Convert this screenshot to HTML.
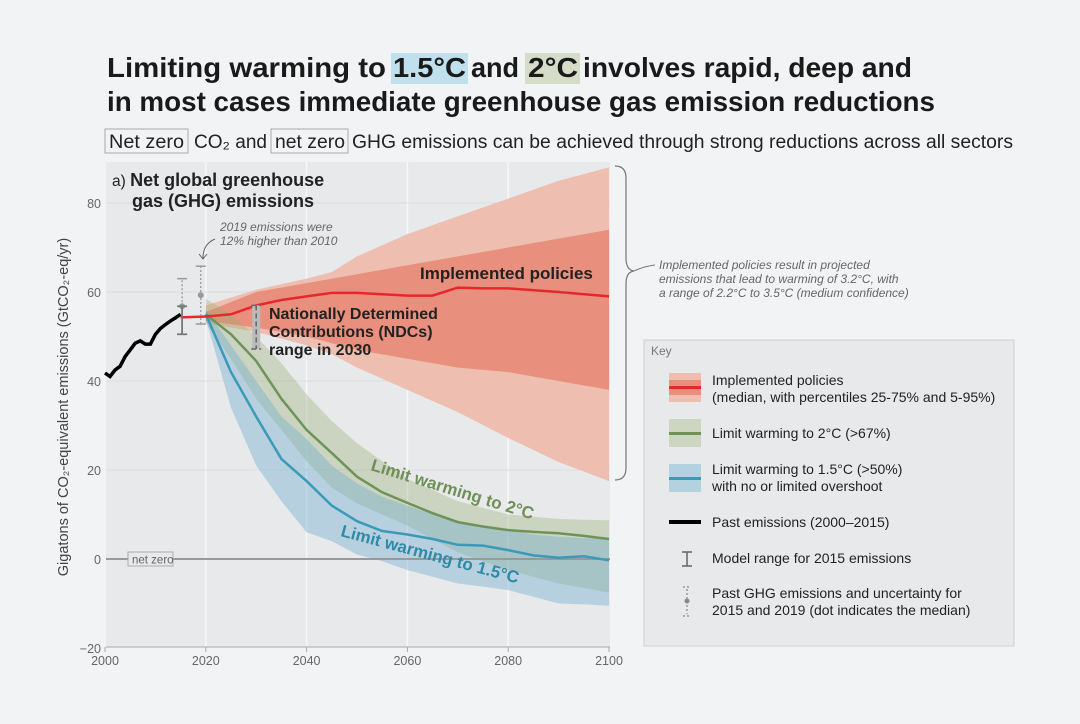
<!DOCTYPE html>
<html><head><meta charset="utf-8"><style>
body{margin:0;background:#f2f3f5;}
svg{display:block;font-family:"Liberation Sans",sans-serif;}
</style></head><body>
<svg id="c" width="1080" height="724" viewBox="0 0 1080 724">
<rect width="1080" height="724" fill="#f2f3f5"/>
<g font-size="28" font-weight="bold" fill="#1a1a1a">
<rect x="391" y="53" width="77" height="31" fill="#bfe0ec"/>
<rect x="525" y="53" width="55" height="31" fill="#d5dcc8"/>
<text x="107" y="77" textLength="279" lengthAdjust="spacingAndGlyphs">Limiting warming to</text>
<text x="393" y="77" textLength="73" lengthAdjust="spacingAndGlyphs">1.5°C</text>
<text x="471" y="77" textLength="48" lengthAdjust="spacingAndGlyphs">and</text>
<text x="528" y="77" textLength="50" lengthAdjust="spacingAndGlyphs">2°C</text>
<text x="583" y="77" textLength="329" lengthAdjust="spacingAndGlyphs">involves rapid, deep and</text>
<text x="107" y="111" textLength="828" lengthAdjust="spacingAndGlyphs">in most cases immediate greenhouse gas emission reductions</text>
</g>
<g font-size="19" fill="#222">
<rect x="105" y="129" width="83" height="24" fill="none" stroke="#aaa" stroke-width="1"/>
<rect x="271" y="129" width="77" height="24" fill="none" stroke="#aaa" stroke-width="1"/>
<text x="109" y="148" textLength="75" lengthAdjust="spacingAndGlyphs">Net zero</text>
<text x="194" y="148" textLength="73" lengthAdjust="spacingAndGlyphs">CO₂ and</text>
<text x="275" y="148" textLength="70" lengthAdjust="spacingAndGlyphs">net zero</text>
<text x="352" y="148" textLength="661" lengthAdjust="spacingAndGlyphs">GHG emissions can be achieved through strong reductions across all sectors</text>
</g>
<rect x="106" y="162" width="504" height="485" fill="#e8e9eb"/>
<g id="grid"></g>
<g id="bands"></g>
<g id="lines"></g>
<g id="axes"></g>
<text x="112" y="186" font-size="15.5" fill="#222">a) <tspan font-weight="bold" font-size="18">Net global greenhouse</tspan></text>
<text x="132" y="207" font-size="18" font-weight="bold" fill="#222">gas (GHG) emissions</text>
<text x="68" y="407" font-size="14.5" fill="#444" text-anchor="middle" transform="rotate(-90 68 407)">Gigatons of CO₂-equivalent emissions (GtCO₂-eq/yr)</text>
<g font-style="italic" fill="#666" font-size="12">
<text x="220" y="231">2019 emissions were</text>
<text x="220" y="245">12% higher than 2010</text>
<path d="M215 239 Q203 244 203 258 M199 254 L203 259 L207 254" fill="none" stroke="#666" stroke-width="1"/>
</g>
<text x="420" y="279" font-size="17" font-weight="bold" fill="#222">Implemented policies</text>
<g font-size="16" font-weight="bold" fill="#222">
<text x="269" y="319">Nationally Determined</text>
<text x="269" y="337">Contributions (NDCs)</text>
<text x="269" y="355">range in 2030</text>
</g>
<text x="370" y="470" font-size="17" font-weight="bold" fill="#6f8f56" transform="rotate(17 370 470)">Limit warming to 2°C</text>
<text x="340" y="536" font-size="17" font-weight="bold" fill="#2f8aa6" transform="rotate(15 340 536)">Limit warming to 1.5°C</text>
<g>
<path d="M615 166 Q626 166 626 178 L626 258 Q626 270 634 271 Q626 272 626 284 L626 468 Q626 480 615 480" fill="none" stroke="#777" stroke-width="1.2"/>
<path d="M634 271 Q645 266 655 265" fill="none" stroke="#777" stroke-width="1"/>
</g>
<g font-style="italic" fill="#666" font-size="12">
<text x="659" y="269">Implemented policies result in projected</text>
<text x="659" y="283">emissions that lead to warming of 3.2°C, with</text>
<text x="659" y="297">a range of 2.2°C to 3.5°C (medium confidence)</text>
</g>
<g>
<rect x="644" y="340" width="370" height="306" fill="#e8e9eb" stroke="#d0d0d0"/>
<text x="651" y="355" font-size="12" fill="#777">Key</text>
<rect x="669" y="373" width="32" height="29" fill="#eebfb0"/><rect x="669" y="380" width="32" height="15" fill="#e8907d"/><rect x="669" y="386" width="32" height="3" fill="#e8262d"/>
<text x="712" y="385" font-size="14" fill="#222">Implemented policies</text>
<text x="712" y="402" font-size="14" fill="#222">(median, with percentiles 25-75% and 5-95%)</text>
<rect x="669" y="419" width="32" height="28" fill="#ccd6c0"/><rect x="669" y="432" width="32" height="3" fill="#6f9357"/>
<text x="712" y="438" font-size="14" fill="#222">Limit warming to 2°C (&gt;67%)</text>
<rect x="669" y="464" width="32" height="28" fill="#b2d2df"/><rect x="669" y="477" width="32" height="3" fill="#3a9ab7"/>
<text x="712" y="474" font-size="14" fill="#222">Limit warming to 1.5°C (&gt;50%)</text>
<text x="712" y="491" font-size="14" fill="#222">with no or limited overshoot</text>
<rect x="669" y="520" width="32" height="4" fill="#000"/>
<text x="712" y="527" font-size="14" fill="#222">Past emissions (2000–2015)</text>
<path d="M682 552 h10 M687 552 v14 M682 566 h10" stroke="#666" stroke-width="1.5"/>
<text x="712" y="563" font-size="14" fill="#222">Model range for 2015 emissions</text>
<path d="M683 587 h8 M683 616 h8 M687 589 v25" stroke="#888" stroke-width="1.2" stroke-dasharray="2,2"/><circle cx="687" cy="601" r="2.5" fill="#888"/>
<text x="712" y="598" font-size="14" fill="#222">Past GHG emissions and uncertainty for</text>
<text x="712" y="615" font-size="14" fill="#222">2015 and 2019 (dot indicates the median)</text>
</g>
</svg>
<script>
const pastYears=[2000,2001,2002,2003,2004,2005,2006,2007,2008,2009,2010,2011,2012,2013,2014,2015];
const pastValues=[41.8,41,42.5,43.3,45.5,47,48.5,49,48.3,48.3,50.5,51.8,52.7,53.5,54.2,55];
const polYears=[2015,2020,2025,2030,2035,2040,2045,2050,2055,2060,2065,2070,2075,2080,2090,2100];
const polMedian=[54.3,54.5,55,57,58.2,59,59.8,59.8,59.5,59.2,59.2,61,60.8,60.8,60,59];
const bandYears=[2020,2030,2040,2045,2050,2060,2070,2080,2090,2100];
const pol95=[57,60.5,63,64.5,68,73,77,81,85,88];
const pol75=[55.5,60,62,63,64,66,68,70,72,74];
const pol25=[53.5,52,50,48.5,47,45,43,42,40,38];
const pol5=[53,51,48,46,43,38,33,27.2,21.8,17.5];
const pathYears=[2020,2025,2030,2035,2040,2045,2050,2055,2060,2065,2070,2075,2080,2085,2090,2095,2100];
const c2Median=[55,50.5,44.5,36,29,23.8,18.5,15,12.6,10.3,8.3,7.3,6.5,6.1,5.8,5.2,4.5];
const c2Upper=[58.5,55,50,44,37,31,26,22,18,15.5,13,11.5,10,9.5,9,8.8,8.7];
const c2Lower=[53,45,36,29,22,16,12.5,10,7.5,4.5,1.5,-0.5,-2.5,-4,-5.5,-6.5,-7.6];
const c15Median=[55,42,32,22.5,17.5,12,8.5,6.3,5.5,4.5,3.2,3,2,0.8,0.3,0.6,-0.3];
const c15Upper=[56,48,40,32,27,21,17,14,12,10,8.5,7.5,6.5,5.5,5,4.7,4.5];
const c15Lower=[54,34,21,13,6,4,1,-0.5,-2.5,-4,-5.5,-6.2,-7,-8.5,-10,-10.2,-10.5];
const yTicks=[80,60,40,20,0,-20];
const xTicks=[2000,2020,2040,2060,2080,2100];
const err2015=[50.5,56.8,63];
const err2019=[52.8,59.3,65.8];
const ndc2030=[47.2,57];
const X=y=>105+(y-2000)*5.04;
const Y=v=>559-v*4.45;
const NS='http://www.w3.org/2000/svg';
function mk(parent,tag,attrs){const e=document.createElementNS(NS,tag);for(const k in attrs)e.setAttribute(k,attrs[k]);document.getElementById(parent).appendChild(e);return e;}
function line(xs,vs){return xs.map((x,i)=>(i?'L':'M')+X(x).toFixed(1)+' '+Y(vs[i]).toFixed(1)).join(' ');}
function band(xs,up,lo){let d=xs.map((x,i)=>(i?'L':'M')+X(x).toFixed(1)+' '+Y(up[i]).toFixed(1)).join(' ');for(let i=xs.length-1;i>=0;i--)d+=' L'+X(xs[i]).toFixed(1)+' '+Y(lo[i]).toFixed(1);return d+'Z';}
xTicks.forEach(t=>{if(t>2000&&t<2100){const e=mk('grid','line',{x1:X(t),x2:X(t),y1:162,y2:647,stroke:'#f7f7f8','stroke-width':1.5});

}
const l=mk('axes','text',{x:X(t),y:665,'font-size':12.5,fill:'#666','text-anchor':'middle'});l.textContent=t;


mk('axes','line',{x1:X(t),x2:X(t),y1:647,y2:652,stroke:'#aaa'});});
yTicks.forEach(t=>{if(t!==0&&t!==-20){const e=mk('grid','line',{x1:106,x2:610,y1:Y(t),y2:Y(t),stroke:'#dcdde0','stroke-width':1});

}
const l=mk('axes','text',{x:101,y:Y(t)+5,'font-size':12.5,fill:'#666','text-anchor':'end'});l.textContent=t===-20?'−20':t;

});
mk('axes','line',{x1:106,x2:610,y1:647,y2:647,stroke:'#aaa'});
let b;
b=mk('bands','path',{d:band(bandYears,pol95,pol5),fill:'#eebfb0'});


b=mk('bands','path',{d:band(bandYears,pol75,pol25),fill:'#e8907d'});


b=mk('bands','path',{d:band(pathYears,c2Upper,c2Lower),fill:'rgba(150,175,115,0.35)'});


b=mk('bands','path',{d:band(pathYears,c15Upper,c15Lower),fill:'rgba(110,170,205,0.4)'});


const z=mk('lines','line',{x1:106,x2:610,y1:Y(0),y2:Y(0),stroke:'#999','stroke-width':2});


const zr=mk('lines','rect',{x:128,y:Y(0)-7,width:45,height:14,fill:'#e8e9eb',stroke:'#aaa'});


const zt=mk('lines','text',{x:132,y:Y(0)+4.5,'font-size':11.5,fill:'#666'});zt.textContent='net zero';


let l;
l=mk('lines','path',{d:line(pathYears,c2Median),fill:'none',stroke:'#6f9357','stroke-width':2.5});


l=mk('lines','path',{d:line(pathYears,c15Median),fill:'none',stroke:'#3a9ab7','stroke-width':2.5});


l=mk('lines','path',{d:line(polYears,polMedian),fill:'none',stroke:'#e8262d','stroke-width':2.5});


l=mk('lines','path',{d:line(pastYears,pastValues),fill:'none',stroke:'#000','stroke-width':3.5});


function errbar(yr,vals,name){const x=X(yr);
const g=mk('lines','g',{});


mk('lines','line',{x1:x,x2:x,y1:Y(vals[0]),y2:Y(vals[2]),stroke:'#999','stroke-width':1.3,'stroke-dasharray':'2,2'});
mk('lines','line',{x1:x-5,x2:x+5,y1:Y(vals[2]),y2:Y(vals[2]),stroke:'#999','stroke-width':1.5});
mk('lines','line',{x1:x-5,x2:x+5,y1:Y(vals[0]),y2:Y(vals[0]),stroke:'#999','stroke-width':1.5});
mk('lines','circle',{cx:x,cy:Y(vals[1]),r:3,fill:'#999'});}
errbar(2015.3,err2015,'errorbar-2015');
const xm=X(2015.3);
mk('lines','path',{d:`M${xm-5} ${Y(err2015[1])} h10 M${xm} ${Y(err2015[1])} V${Y(err2015[0])} M${xm-5} ${Y(err2015[0])} h10`,stroke:'#777','stroke-width':1.8,fill:'none'});
errbar(2019,err2019,'errorbar-2019');
const nx=X(2030);
const nr=mk('lines','rect',{x:nx-4,y:Y(ndc2030[1]),width:8,height:Y(ndc2030[0])-Y(ndc2030[1]),fill:'#bbb'});


mk('lines','path',{d:`M${nx-5} ${Y(ndc2030[1])} h10 M${nx-5} ${Y(ndc2030[0])} h10 M${nx} ${Y(ndc2030[1])} V${Y(ndc2030[0])}`,stroke:'#666','stroke-width':1.5,'stroke-dasharray':'5,3',fill:'none'});
</script>
</body></html>
